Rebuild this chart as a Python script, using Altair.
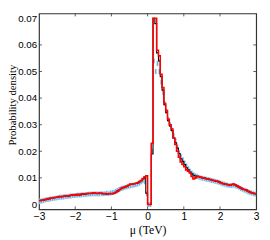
import altair as alt
import pandas as pd

x_start = -3.0
bin_width = 0.05

red = [
    0.0015, 0.0016, 0.0017, 0.0019, 0.0020, 0.0022, 0.0024, 0.0023, 0.0026, 0.0027,
    0.0028, 0.0030, 0.0029, 0.0031, 0.0032, 0.0033, 0.0032, 0.0035, 0.0036, 0.0035,
    0.0037, 0.0038, 0.0036, 0.0039, 0.0040, 0.0039, 0.0041, 0.0042, 0.0041, 0.0043,
    0.0044, 0.0042, 0.0041, 0.0043, 0.0042, 0.0040, 0.0041, 0.0039, 0.0040, 0.0041,
    0.0040, 0.0042, 0.0045, 0.0050, 0.0055, 0.0060, 0.0064, 0.0066, 0.0068, 0.0072,
    0.0077, 0.0076, 0.0078, 0.0080, 0.0082, 0.0086, 0.0090, 0.0098, 0.0104, 0.0108,
    0.0, 0.0, 0.023, 0.070, 0.070, 0.058, 0.0559, 0.049, 0.044, 0.038,
    0.0353, 0.032, 0.0300, 0.0284, 0.025, 0.0226, 0.020, 0.0178, 0.0160, 0.0150,
    0.0142, 0.0130, 0.0125, 0.0118, 0.0105, 0.0096, 0.0100, 0.0106, 0.0104, 0.0102,
    0.0100, 0.0099, 0.0097, 0.0096, 0.0094, 0.0092, 0.0090, 0.0088, 0.0087, 0.0085,
    0.0082, 0.0079, 0.0077, 0.0076, 0.0074, 0.0072, 0.0075, 0.0077, 0.0074, 0.0070,
    0.0066, 0.0062, 0.0058, 0.0056, 0.0054, 0.0050, 0.0047, 0.0044, 0.0042, 0.0040,
]

black = [
    0.0014, 0.0016, 0.0017, 0.0018, 0.0020, 0.0021, 0.0023, 0.0023, 0.0025, 0.0026,
    0.0028, 0.0029, 0.0029, 0.0030, 0.0032, 0.0032, 0.0032, 0.0034, 0.0035, 0.0035,
    0.0036, 0.0037, 0.0036, 0.0038, 0.0039, 0.0039, 0.0040, 0.0041, 0.0041, 0.0042,
    0.0043, 0.0042, 0.0041, 0.0042, 0.0042, 0.0040, 0.0040, 0.0039, 0.0040, 0.0040,
    0.0040, 0.0042, 0.0046, 0.0051, 0.0056, 0.0061, 0.0063, 0.0066, 0.0068, 0.0071,
    0.0075, 0.0076, 0.0078, 0.0079, 0.0081, 0.0085, 0.0089, 0.0096, 0.0100, 0.0042,
    0.0, 0.0, 0.019, 0.070, 0.068, 0.057, 0.054, 0.048, 0.043, 0.0375,
    0.0345, 0.0315, 0.0295, 0.0278, 0.0250, 0.0232, 0.0212, 0.0192, 0.0172, 0.0162,
    0.0150, 0.0138, 0.0130, 0.0122, 0.0115, 0.0110, 0.0107, 0.0106, 0.0104, 0.0102,
    0.0100, 0.0099, 0.0097, 0.0096, 0.0094, 0.0092, 0.0090, 0.0088, 0.0087, 0.0085,
    0.0082, 0.0079, 0.0077, 0.0076, 0.0074, 0.0072, 0.0074, 0.0076, 0.0073, 0.0070,
    0.0066, 0.0062, 0.0058, 0.0056, 0.0054, 0.0050, 0.0047, 0.0044, 0.0042, 0.0040,
]

blue = [
    0.0012, 0.0013, 0.0015, 0.0017, 0.0018, 0.0019, 0.0021, 0.0022, 0.0023, 0.0024,
    0.0026, 0.0027, 0.0027, 0.0028, 0.0030, 0.0030, 0.0031, 0.0032, 0.0033, 0.0033,
    0.0034, 0.0035, 0.0035, 0.0036, 0.0037, 0.0037, 0.0038, 0.0039, 0.0039, 0.0040,
    0.0040, 0.0040, 0.0040, 0.0040, 0.0041, 0.0040, 0.0041, 0.0042, 0.0041, 0.0043,
    0.0045, 0.0046, 0.0050, 0.0054, 0.0057, 0.0060, 0.0062, 0.0064, 0.0066, 0.0068,
    0.0070, 0.0072, 0.0073, 0.0075, 0.0077, 0.0080, 0.0085, 0.0090, 0.0085, 0.0040,
    0.0, 0.0, 0.020, 0.054, 0.050, 0.053, 0.050, 0.046, 0.042, 0.038,
    0.035, 0.032, 0.030, 0.028, 0.026, 0.024, 0.0215, 0.0195, 0.0180, 0.0168,
    0.0155, 0.0145, 0.0135, 0.0125, 0.0118, 0.0112, 0.0108, 0.0105, 0.0102, 0.0100,
    0.0098, 0.0097, 0.0095, 0.0094, 0.0092, 0.0090, 0.0089, 0.0087, 0.0085, 0.0083,
    0.0080, 0.0078, 0.0076, 0.0074, 0.0072, 0.0071, 0.0071, 0.0072, 0.0070, 0.0067,
    0.0064, 0.0060, 0.0057, 0.0054, 0.0051, 0.0048, 0.0045, 0.0043, 0.0041, 0.0039,
]

x_ticks = [-3, -2, -1, 0, 1, 2, 3]
y_ticks = [0, 0.01, 0.02, 0.03, 0.04, 0.05, 0.06, 0.07]

n = len(blue)
edges = [x_start + bin_width * i for i in range(n + 1)]
bars_df = pd.DataFrame({"x0": edges[:-1], "x1": edges[1:], "v": blue})
red_df = pd.DataFrame({"x": edges, "v": red + [red[-1]]})
black_df = pd.DataFrame({"x": edges, "v": black + [black[-1]]})
xt_df = pd.DataFrame({"t": x_ticks[1:-1]})
yt_df = pd.DataFrame({"t": y_ticks[1:-1]})

W, H = 224, 202
xs = alt.Scale(domain=[-3, 3], nice=False, zero=False)
ys = alt.Scale(domain=[0, 0.07], nice=False, zero=False)

x_axis = alt.Axis(
    values=x_ticks, tickCount=7, ticks=False, domain=False, grid=False,
    labelPadding=3, labelOverlap=False, labelFlush=False,
    labelFont="Liberation Sans", labelFontSize=10.5, labelColor="#000",
    title="μ (TeV)", titleFont="Liberation Serif", titleFontSize=12,
    titleFontWeight="normal", titleColor="#000", titleY=21, titleBaseline="middle",
)
y_axis = alt.Axis(
    values=y_ticks, tickCount=8, ticks=False, domain=False, grid=False,
    labelPadding=2.5, labelOverlap=False, labelFlush=False,
    labelFont="Liberation Sans", labelFontSize=10, labelColor="#000",
    labelExpr="datum.value == 0 ? '0' : format(datum.value, '.2f')",
    title="Probability density", titleFont="Liberation Serif", titleFontSize=11,
    titleFontWeight="normal", titleColor="#000", titleX=-24, titleY=94,
    titleBaseline="alphabetic", titleAngle=270, titleAlign="center",
)

bars = alt.Chart(bars_df).mark_bar(
    color="#5aabdd", stroke="#e6f2fa", strokeWidth=0.4, clip=True
).encode(
    x=alt.X("x0:Q", scale=xs, axis=x_axis),
    x2="x1:Q",
    y=alt.Y("v:Q", scale=ys, axis=y_axis),
)

black_line = alt.Chart(black_df).mark_line(
    color="#000000", strokeWidth=1.1, interpolate="step-after", clip=True
).encode(x=alt.X("x:Q", scale=xs, axis=x_axis), y=alt.Y("v:Q", scale=ys, axis=y_axis))

red_line = alt.Chart(red_df).mark_line(
    color="#ff0000", strokeWidth=1.6, interpolate="step-after", clip=True
).encode(x=alt.X("x:Q", scale=xs, axis=x_axis), y=alt.Y("v:Q", scale=ys, axis=y_axis))

tick_len = 3
tick_color = "#333333"
xt_bottom = alt.Chart(xt_df).mark_rule(color=tick_color, strokeWidth=0.8).encode(
    x=alt.X("t:Q", scale=xs, axis=x_axis), y=alt.value(H), y2=alt.value(H - tick_len))
xt_top = alt.Chart(xt_df).mark_rule(color=tick_color, strokeWidth=0.8).encode(
    x=alt.X("t:Q", scale=xs, axis=x_axis), y=alt.value(0), y2=alt.value(tick_len))
yt_left = alt.Chart(yt_df).mark_rule(color=tick_color, strokeWidth=0.8).encode(
    y=alt.Y("t:Q", scale=ys, axis=y_axis), x=alt.value(0), x2=alt.value(tick_len))
yt_right = alt.Chart(yt_df).mark_rule(color=tick_color, strokeWidth=0.8).encode(
    y=alt.Y("t:Q", scale=ys, axis=y_axis), x=alt.value(W), x2=alt.value(W - tick_len))

chart = alt.layer(
    bars, black_line, red_line, xt_bottom, xt_top, yt_left, yt_right
).properties(
    width=W, height=H,
    autosize=alt.AutoSizeParams(type="none"),
    padding={"left": 32, "top": 2, "right": 6, "bottom": 28},
).configure_view(
    stroke="#333333", strokeWidth=1.2
)

chart.save("out.html", embed_options={"renderer": "svg", "actions": False})
